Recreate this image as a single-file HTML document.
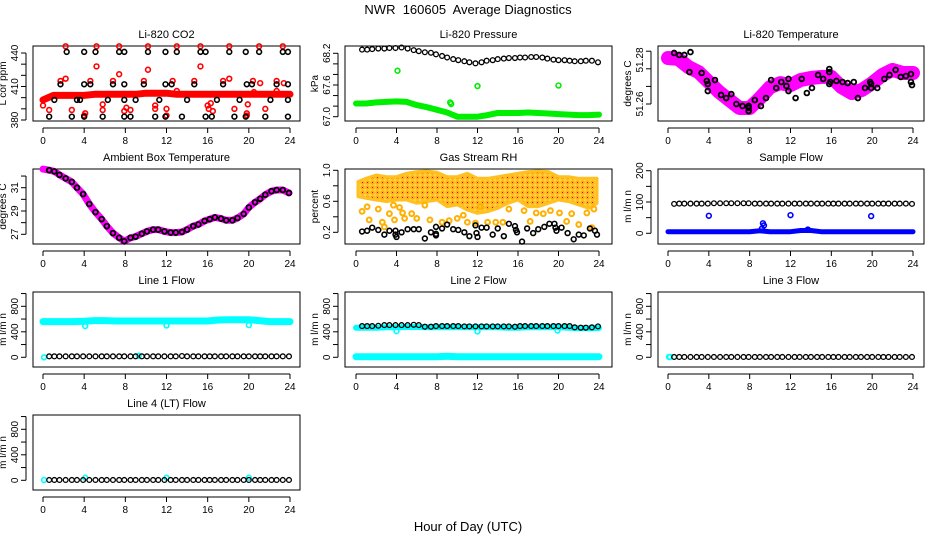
<!DOCTYPE html>
<html><head><meta charset="utf-8"><style>
html,body{margin:0;padding:0;background:#fff}
svg{display:block;font-family:"Liberation Sans",sans-serif}
</style></head><body>
<svg id="chart" width="936" height="540" viewBox="0 0 936 540">
<defs>
<pattern id="rhpat" width="5" height="5" patternUnits="userSpaceOnUse"><rect width="5" height="5" fill="#ffd23c"/><circle cx="2.5" cy="2.5" r="1.6" fill="none" stroke="#ff9a00" stroke-width="0.8"/><circle cx="2.5" cy="2.5" r="0.6" fill="#e00000"/></pattern>
</defs>
<text x="468" y="14" font-size="13" text-anchor="middle" style="white-space:pre">NWR  160605  Average Diagnostics</text>
<text x="468" y="531" font-size="13" text-anchor="middle">Hour of Day (UTC)</text>
</svg>
<script>
// ---------- data ----------
const halfTimes = [0.6,1.1,1.6,2.2,2.8,3.3,3.9,4.5,5.1,5.7,6.2,6.8,7.4,7.9,8.5,9.0,9.6,10.1,10.7,11.2,11.8,12.4,12.9,13.5,14.0,14.6,15.1,15.7,16.2,16.7,17.3,17.8,18.4,18.9,19.5,20.0,20.6,21.1,21.6,22.2,22.7,23.3,23.9];
const hours24 = [0,1,2,3,4,5,6,7,8,9,10,11,12,13,14,15,16,17,18,19,20,21,22,23,24];
const xTicks = [0,4,8,12,16,20,24];

// CO2
const co2BlackT = [0.6,1.1,1.7,2.3,2.8,3.3,3.6,4.0,4.0,4.0,4.6,5.1,5.8,6.3,6.8,7.4,7.9,7.9,7.9,7.9,8.5,9.0,9.8,10.2,10.9,11.3,11.9,11.9,11.9,12.5,13.0,13.5,14.0,14.7,15.3,15.8,15.8,16.4,16.9,17.5,18.1,18.6,19.1,19.7,19.7,19.8,20.3,21.0,21.6,22.1,22.7,23.3,23.8,23.8,23.8,23.8];
const co2BlackV = [383,398,412,441,383,398,398,441,412,383,412,441,383,398,412,441,441,412,398,383,383,398,412,441,383,398,441,412,383,412,441,383,398,412,441,441,383,383,398,412,441,383,398,441,383,412,412,441,383,398,412,441,441,412,398,383];
const co2RedT = [0.0,0.6,1.7,2.2,2.2,2.8,4.0,4.1,4.6,5.2,5.2,5.8,5.8,6.8,7.4,7.4,7.9,8.1,8.5,9.8,10.2,10.2,10.9,10.9,12.0,12.0,12.6,13.0,13.0,14.7,15.3,15.3,16.0,16.1,16.3,16.5,17.5,18.1,18.1,18.6,19.8,19.8,19.9,20.4,20.5,21.0,21.1,21.6,22.7,22.7,23.3,23.4];
const co2RedV = [393,389,415,446,417,389,384,386,415,446,428,389,394,415,446,421,388,391,389,415,446,425,390,393,384,390,415,446,406,415,446,428,393,390,395,388,415,446,417,390,384,386,394,415,405,446,413,390,415,406,446,413];
const co2Band = [398,402,402,402,402,403,403,403,403,403,404,404,404,403,403,403,403,403,403,403,403,403,403,403,403];

// Pressure
const presBlack = [68.27,68.27,68.28,68.29,68.29,68.30,68.30,68.31,68.29,68.26,68.24,68.22,68.21,68.18,68.15,68.12,68.09,68.07,68.05,68.03,68.01,68.03,68.06,68.07,68.09,68.10,68.11,68.11,68.12,68.12,68.13,68.13,68.12,68.10,68.08,68.07,68.07,68.06,68.05,68.05,68.06,68.06,68.03];
const presGreen = [67.25,67.25,67.27,67.28,67.29,67.28,67.22,67.18,67.13,67.08,67.00,67.00,67.00,67.03,67.07,67.07,67.07,67.08,67.07,67.06,67.05,67.04,67.03,67.03,67.04];
const presGreenOutT = [4.1,9.3,9.4,12.0,20.0];
const presGreenOutV = [67.87,67.27,67.24,67.58,67.59];

// Li-820 Temperature
const tempCloud = [51.2809,51.2805,51.2768,51.2745,51.2700,51.2655,51.2618,51.2582,51.2582,51.2627,51.2677,51.2695,51.2686,51.2709,51.2718,51.2723,51.2723,51.2677,51.2650,51.2664,51.2695,51.2732,51.2755,51.2741,51.2741];
const tempBlackT = [0.6,1.1,1.6,2.2,2.1,3.3,3.8,3.9,4.6,3.9,5.2,5.7,6.2,6.7,7.3,7.9,7.9,7.9,8.5,9.1,9.6,10.1,10.6,11.1,11.6,11.8,11.8,12.5,13.1,13.6,14.1,14.7,15.2,15.8,15.8,15.9,15.8,16.5,17.1,17.6,18.2,18.6,19.3,19.8,19.9,19.9,20.5,21.2,21.7,22.3,22.8,23.3,23.8,23.8,23.9];
const tempBlackV = [51.2832,51.2823,51.2823,51.2836,51.2745,51.2741,51.2705,51.2691,51.2709,51.2659,51.2641,51.2627,51.2645,51.2600,51.2591,51.2591,51.2582,51.2568,51.2618,51.2591,51.2627,51.2709,51.2673,51.2700,51.2682,51.2714,51.2659,51.2627,51.2714,51.2650,51.2673,51.2732,51.2714,51.2759,51.2745,51.2700,51.2691,51.2705,51.2700,51.2695,51.2700,51.2627,51.2673,51.2700,51.2691,51.2673,51.2673,51.2714,51.2732,51.2755,51.2723,51.2727,51.2736,51.2700,51.2686];

// Ambient
const ambBlack = [32.5,32.4,32.1,31.8,31.5,31.0,30.45,29.6,28.9,28.3,27.7,27.1,26.7,26.4,26.7,26.8,27.05,27.25,27.4,27.4,27.25,27.15,27.15,27.2,27.4,27.7,27.85,28.15,28.3,28.45,28.35,28.2,28.2,28.4,28.75,29.3,29.75,30.05,30.4,30.7,30.8,30.8,30.55];
const ambStart = 32.6;

// RH
const rhBlackT = [0.6,1.1,1.6,2.2,2.8,3.3,3.9,3.9,4.0,4.5,5.1,5.7,6.2,6.8,7.4,7.9,7.9,7.9,8.5,9.0,9.6,10.1,10.7,11.2,11.8,11.9,12.0,12.4,12.9,13.5,14.0,14.6,15.1,15.7,15.8,15.9,16.4,16.9,17.5,18.0,18.6,19.1,19.6,19.7,19.8,20.3,20.9,21.5,22.0,22.5,23.1,23.6,23.8];
const rhBlackV = [0.21,0.22,0.26,0.23,0.17,0.22,0.22,0.17,0.14,0.20,0.24,0.24,0.24,0.12,0.20,0.27,0.18,0.16,0.25,0.30,0.24,0.23,0.20,0.15,0.29,0.19,0.14,0.26,0.26,0.17,0.25,0.15,0.31,0.28,0.23,0.20,0.08,0.25,0.19,0.24,0.27,0.31,0.31,0.26,0.22,0.26,0.19,0.11,0.17,0.16,0.25,0.22,0.17];
const rhCloudT = [0.2,1,2,3,4,5,6,7,8,9,10,11,12,13,14,15,16,17,18,19,20,21,22,23,23.8];
const rhUpper = [0.854,0.897,0.940,0.918,0.918,0.961,0.983,0.991,0.974,0.918,0.918,0.961,0.897,0.897,0.918,0.940,0.961,0.983,0.991,0.983,0.918,0.918,0.897,0.897,0.897];
const rhLower = [0.660,0.639,0.617,0.596,0.617,0.617,0.574,0.596,0.617,0.531,0.553,0.488,0.445,0.467,0.510,0.574,0.617,0.531,0.531,0.574,0.617,0.596,0.553,0.510,0.574];
const rhOutT = [0.6,1.1,1.3,2.2,2.6,2.8,3.3,3.7,3.8,4.3,4.6,4.8,5.5,6.0,6.8,7.3,8.5,9.2,10.0,10.6,11.0,11.8,12.3,13.0,13.8,14.5,15.1,16.6,17.2,17.8,18.5,19.2,20.1,20.8,21.3,22.0,22.8,23.3,23.5];
const rhOutV = [0.47,0.53,0.36,0.50,0.33,0.27,0.44,0.55,0.36,0.52,0.45,0.38,0.44,0.38,0.55,0.36,0.33,0.35,0.38,0.42,0.33,0.32,0.53,0.33,0.33,0.33,0.50,0.48,0.34,0.45,0.44,0.48,0.45,0.34,0.44,0.30,0.45,0.26,0.50];

// Sample flow
const sfBlack = [94,95,95,95,95,95,95,96,96,96,96,96,96,96,95,95,95,95,95,95,95,95,95,95,95,95,95,95,95,95,95,95,95,95,95,95,95,95,95,95,95,95,94];
const sfBlue = [5,5,5,5,5,5,5,5,5,8,5,5,5,9,9,5,5,5,5,5,5,5,5,5,5];
const sfBlueOutT = [4.0,12.0,19.9,9.3,9.4,9.2,13.7];
const sfBlueOutV = [56,58,55,32,25,15,12];

// Line flows
const l1Cyan = [560,560,560,560,565,575,575,570,570,570,570,570,570,570,570,570,570,585,590,590,590,575,560,560,560];
const l1CyanOutT = [4.1,12.0,20.0,0.1,9.3];
const l1CyanOutV = [490,500,505,0,25];
const l1Black = [15,15,15,15,15,15,15,15,15,15,15,15,15,15,15,15,15,15,15,15,15,15,15,20,15,15,15,15,15,15,15,15,15,15,15,15,15,15,15,15,15,15,15];
const l2Cyan = [465,465,465,470,470,475,475,470,470,470,470,470,470,470,470,465,465,470,470,470,470,465,455,455,460];
const l2CyanLow = [10,10,10,10,10,10,10,10,10,15,10,10,10,10,10,10,10,10,10,10,10,10,10,10,10];
const l2CyanOutT = [4.0,12.0,19.9];
const l2CyanOutV = [410,405,420];
const l2Black = [490,490,490,495,505,505,505,505,505,510,505,480,480,490,490,490,490,490,485,485,485,485,485,485,485,485,485,480,490,490,490,490,490,490,490,490,490,490,470,465,465,470,485];
const l3Black = [5,5,5,5,5,5,5,5,5,5,5,5,5,5,5,5,5,5,5,5,5,5,5,5,5,5,5,5,5,5,5,5,5,5,5,5,5,5,5,5,5,5,5];
const l3CyanT = [0.1,0.2];
const l3CyanV = [5,5];
const l4Black = [5,5,5,5,5,5,5,5,5,5,5,5,5,5,5,5,5,5,5,5,5,5,5,5,5,5,5,5,5,5,5,5,5,5,5,5,5,5,5,5,5,5,5];
const l4CyanT = [0.1,4.1,12.0,20.0];
const l4CyanV = [5,40,40,40];

// ---------- drawing ----------
const svg = document.getElementById('chart');
const NS = 'http://www.w3.org/2000/svg';
const colLeft = [33,345,658], colRight = [300,612,924], colX0 = [43,356,668], colSpan = [247,243,245];

function mk(tag, attrs, name, parent) {
  const el = document.createElementNS(NS, tag);
  for (const k in attrs) el.setAttribute(k, attrs[k]);
  
  
  (parent || svg).appendChild(el);
  return el;
}

function panel(cfg) {
  const c = cfg.col, r = cfg.row, off = 123 * r;
  const top = 46 + off, bot = 121 + off, L = colLeft[c], R = colRight[c];
  const g = mk('g', {}, cfg.name + '-panel');
  const x = h => colX0[c] + h * colSpan[c] / 24;
  const y = v => cfg.a[1] + off + (v - cfg.a[0]) * (cfg.b[1] - cfg.a[1]) / (cfg.b[0] - cfg.a[0]);
  mk('text', {x: (L + R) / 2, y: top - 8, 'font-size': 11, 'text-anchor': 'middle'}, cfg.name + '-title', g).textContent = cfg.title;
  mk('rect', {x: L, y: top, width: R - L, height: bot - top, fill: 'none', stroke: '#000', 'stroke-width': 1}, cfg.name + '-plot-box', g);
  const xa = mk('g', {}, cfg.name + '-x-axis', g);
  mk('line', {x1: x(0), x2: x(24), y1: bot + 7, y2: bot + 7, stroke: '#000'}, 'x-axis-line', xa);
  xTicks.forEach(t => {
    mk('line', {x1: x(t), x2: x(t), y1: bot + 7, y2: bot + 12, stroke: '#000'}, 'x-tick', xa);
    mk('text', {x: x(t), y: bot + 23, 'font-size': 10, 'text-anchor': 'middle'}, 'x-tick-label', xa).textContent = t;
  });
  const ya = mk('g', {}, cfg.name + '-y-axis', g);
  mk('line', {x1: L - 7, x2: L - 7, y1: y(cfg.ticks[0]), y2: y(cfg.ticks[cfg.ticks.length - 1]), stroke: '#000'}, 'y-axis-line', ya);
  cfg.ticks.forEach(t => {
    mk('line', {x1: L - 12, x2: L - 7, y1: y(t), y2: y(t), stroke: '#000'}, 'y-tick', ya);
  });
  cfg.labels.forEach((t, i) => {
    const yy = y(t), xx = L - 15;
    mk('text', {x: xx, y: yy, 'font-size': 10, 'text-anchor': 'middle', transform: 'rotate(-90 ' + xx + ' ' + yy + ')'}, 'y-tick-label', ya).textContent = cfg.labelText ? cfg.labelText[i] : t;
  });
  const ty = (top + bot) / 2, tx = L - 27;
  mk('text', {x: tx, y: ty, 'font-size': 10, 'text-anchor': 'middle', transform: 'rotate(-90 ' + tx + ' ' + ty + ')'}, cfg.name + '-y-axis-title', g).textContent = cfg.ytitle;
  return {g, x, y};
}

function pts(p, T, V, color, name, sw) {
  T.forEach((t, i) => {
    mk('circle', {cx: p.x(t), cy: p.y(V[i]), r: 2.4, fill: 'none', stroke: color, 'stroke-width': sw || 1.6}, name, p.g);
  });
}
function band(p, T, V, color, width, name) {
  const d = T.map((t, i) => p.x(t).toFixed(1) + ',' + p.y(V[i]).toFixed(1)).join(' ');
  mk('polyline', {points: d, fill: 'none', stroke: color, 'stroke-width': width, 'stroke-linejoin': 'round', 'stroke-linecap': 'round'}, name, p.g);
}

// CO2
let p = panel({name: 'co2', col: 0, row: 0, title: 'Li-820 CO2', ytitle: 'L cor ppm', a: [380, 120], b: [440, 53], ticks: [380,390,400,410,420,430,440], labels: [380,410,440]});
band(p, hours24, co2Band, '#ff0000', 7, 'co2-red-band');
pts(p, co2RedT, co2RedV, '#ff0000', 'co2-red-point');
pts(p, co2BlackT, co2BlackV, '#000', 'co2-black-point');

// Pressure
p = panel({name: 'pressure', col: 1, row: 0, title: 'Li-820 Pressure', ytitle: 'kPa', a: [67.0, 116.7], b: [68.2, 53.3], ticks: [67.0,67.2,67.4,67.6,67.8,68.0,68.2], labels: [67.0,67.6,68.2], labelText: ['67.0','67.6','68.2']});
band(p, hours24, presGreen, '#00ee00', 6, 'pressure-green-band');
pts(p, presGreenOutT, presGreenOutV, '#00ee00', 'pressure-green-point');
pts(p, halfTimes, presBlack, '#000', 'pressure-black-point', 1.3);

// Li-820 Temperature
p = panel({name: 'li820-temp', col: 2, row: 0, title: 'Li-820 Temperature', ytitle: 'degrees C', a: [51.26, 104], b: [51.28, 60], ticks: [51.26,51.268,51.276,51.284], labels: [51.26,51.28], labelText: ['51.26','51.28']});
band(p, hours24, tempCloud, '#ff00ff', 14, 'temp-magenta-cloud');
pts(p, tempBlackT, tempBlackV, '#000', 'temp-black-point', 1.8);

// Ambient
p = panel({name: 'ambient', col: 0, row: 1, title: 'Ambient Box Temperature', ytitle: 'degrees C', a: [27, 111.3], b: [31, 64.7], ticks: [27,28,29,30,31,32], labels: [27,29,31]});
band(p, [0].concat(halfTimes), [ambStart].concat(ambBlack), '#ff00ff', 7, 'ambient-magenta-line');
pts(p, halfTimes, ambBlack, '#000', 'ambient-black-point', 1.8);

// RH
p = panel({name: 'rh', col: 1, row: 1, title: 'Gas Stream RH', ytitle: 'percent', a: [0.2, 109.3], b: [1.0, 47.3], ticks: [0.2,0.4,0.6,0.8,1.0], labels: [0.2,0.6,1.0], labelText: ['0.2','0.6','1.0']});
const poly = rhCloudT.map((t, i) => p.x(t).toFixed(1) + ',' + p.y(rhUpper[i]).toFixed(1)).concat(rhCloudT.slice().reverse().map((t, i) => p.x(t).toFixed(1) + ',' + p.y(rhLower[rhLower.length - 1 - i]).toFixed(1))).join(' ');
mk('polygon', {points: poly, fill: 'url(#rhpat)', stroke: '#ffc020', 'stroke-width': 3, 'stroke-linejoin': 'round'}, 'rh-orange-cloud', p.g);
pts(p, rhOutT, rhOutV, '#ffb000', 'rh-orange-point', 2);
pts(p, rhBlackT, rhBlackV, '#000', 'rh-black-point');

// Sample flow
p = panel({name: 'sample-flow', col: 2, row: 1, title: 'Sample Flow', ytitle: 'm l/m n', a: [0, 110.3], b: [200, 47.7], ticks: [0,50,100,150,200], labels: [0,100,200]});
band(p, hours24, sfBlue, '#0000ff', 5, 'sample-flow-blue-band');
pts(p, sfBlueOutT, sfBlueOutV, '#0000ff', 'sample-flow-blue-point');
pts(p, halfTimes, sfBlack, '#000', 'sample-flow-black-point', 1.3);

// Line flows
const flowAxis = {a: [0, 111.3], b: [800, 60.3], ticks: [0,200,400,600,800,1000], labels: [0,400,800], ytitle: 'm l/m n'};
p = panel(Object.assign({name: 'line1-flow', col: 0, row: 2, title: 'Line 1 Flow'}, flowAxis));
band(p, hours24, l1Cyan, '#00ffff', 7, 'line1-cyan-band');
pts(p, l1CyanOutT, l1CyanOutV, '#00ffff', 'line1-cyan-point');
pts(p, halfTimes, l1Black, '#000', 'line1-black-point', 1.3);

p = panel(Object.assign({name: 'line2-flow', col: 1, row: 2, title: 'Line 2 Flow'}, flowAxis));
band(p, hours24, l2Cyan, '#00ffff', 6, 'line2-cyan-band');
band(p, hours24, l2CyanLow, '#00ffff', 7, 'line2-cyan-low-band');
pts(p, l2CyanOutT, l2CyanOutV, '#00ffff', 'line2-cyan-point');
pts(p, halfTimes, l2Black, '#000', 'line2-black-point', 1.3);

p = panel(Object.assign({name: 'line3-flow', col: 2, row: 2, title: 'Line 3 Flow'}, flowAxis));
pts(p, l3CyanT, l3CyanV, '#00ffff', 'line3-cyan-point');
pts(p, halfTimes, l3Black, '#000', 'line3-black-point', 1.3);

p = panel(Object.assign({name: 'line4-flow', col: 0, row: 3, title: 'Line 4 (LT) Flow'}, flowAxis));
pts(p, l4CyanT, l4CyanV, '#00ffff', 'line4-cyan-point');
pts(p, halfTimes, l4Black, '#000', 'line4-black-point', 1.3);
</script>
</body></html>
